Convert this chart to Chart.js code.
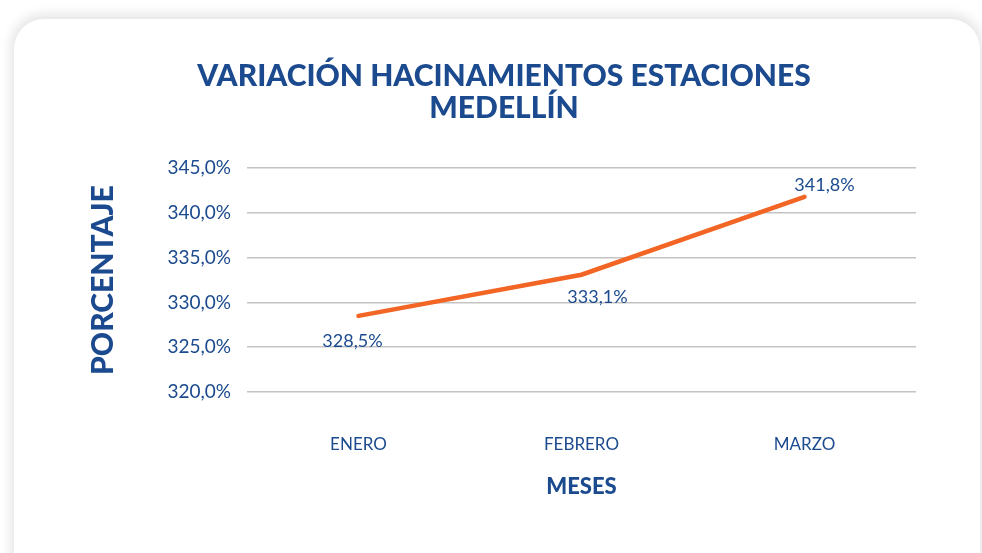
<!DOCTYPE html>
<html>
<head>
<meta charset="utf-8">
<script src="https://cdn.jsdelivr.net/npm/chart.js@4"></script>
<style>
  html, body { margin: 0; padding: 0; background: #ffffff; width: 982px; height: 553px; overflow: hidden; }
  #card { position: absolute; left: 14px; top: 19px; width: 966px; height: 620px; background: #fff;
          border-radius: 30px; box-shadow: 0 -2px 12px 3px rgba(0,0,0,0.11); }
  #c { position: absolute; left: 0; top: 0; }
</style>
</head>
<body>
<div id="card"></div>
<canvas id="c" width="982" height="553"></canvas>
<script>
const categories = ['ENERO', 'FEBRERO', 'MARZO'];
const hacinamiento = [328.5, 333.1, 341.8];
const yTickValues = [320, 325, 330, 335, 340, 345];
const titleLines = ['VARIACIÓN HACINAMIENTOS ESTACIONES', 'MEDELLÍN'];
const yAxisTitle = 'PORCENTAJE';
const xAxisTitle = 'MESES';

const BLUE = '#1b4a8e';
const ORANGE = '#f26524';
const fmt = v => v.toFixed(1).replace('.', ',') + '%';

const labelOffsets = [[-6, 25], [16, 22], [20, -12]];

const dataLabelPlugin = {
  id: 'dataLabels',
  afterDatasetsDraw(chart) {
    const ctx = chart.ctx;
    const meta = chart.getDatasetMeta(0);
    ctx.save();
    ctx.font = '18px Lato, "Open Sans", sans-serif';
    ctx.fillStyle = BLUE;
    ctx.textAlign = 'center';
    ctx.textBaseline = 'middle';
    meta.data.forEach((pt, i) => {
      const off = labelOffsets[i];
      ctx.fillText(fmt(chart.data.datasets[0].data[i]), pt.x + off[0], pt.y + off[1]);
    });
    ctx.restore();
  }
};

new Chart(document.getElementById('c'), {
  type: 'line',
  data: {
    labels: categories,
    datasets: [{
      data: hacinamiento,
      borderColor: ORANGE,
      borderWidth: 4.5,
      pointRadius: 0,
      tension: 0,
      fill: false,
      borderCapStyle: 'round'
    }]
  },
  options: {
    responsive: false,
    animation: false,
    layout: { padding: { left: 26, right: 0, top: 0, bottom: 0 } },
    plugins: {
      legend: { display: false },
      tooltip: { enabled: false },
      title: {
        display: true,
        text: titleLines,
        color: BLUE,
        font: { family: 'Lato, "Open Sans", sans-serif', size: 30, weight: '900', lineHeight: 1.07 },
        padding: { top: 60, bottom: 44 }
      }
    },
    scales: {
      x: {
        type: 'category',
        offset: true,
        grid: { display: false, drawTicks: false },
        border: { display: false },
        ticks: { color: BLUE, font: { family: 'Lato, "Open Sans", sans-serif', size: 17 }, padding: 42 },
        title: { display: true, text: xAxisTitle, color: BLUE,
                 font: { family: 'Lato, "Open Sans", sans-serif', size: 22, weight: '900' },
                 padding: { top: 0, bottom: 53 } },
        afterFit(s) { s.height = 161; }
      },
      y: {
        min: 320, max: 345,
        afterBuildTicks(s) { s.ticks = yTickValues.map(v => ({ value: v })); },
        grid: { color: '#c4c4c4', lineWidth: 1.5, drawTicks: false },
        border: { display: false },
        ticks: { color: BLUE, font: { family: 'Lato, "Open Sans", sans-serif', size: 19 }, padding: 16,
                 callback: v => fmt(v) },
        title: { display: true, text: yAxisTitle, color: BLUE,
                 font: { family: 'Lato, "Open Sans", sans-serif', size: 30, weight: '900' },
                 padding: { top: 59, bottom: 0 } },
        afterFit(s) { s.width = 221; }
      },
      y2: {
        position: 'right',
        display: true,
        grid: { display: false, drawTicks: false },
        border: { display: false },
        ticks: { display: false },
        afterFit(s) { s.width = 66; }
      }
    }
  },
  plugins: [dataLabelPlugin]
});
</script>
</body>
</html>
